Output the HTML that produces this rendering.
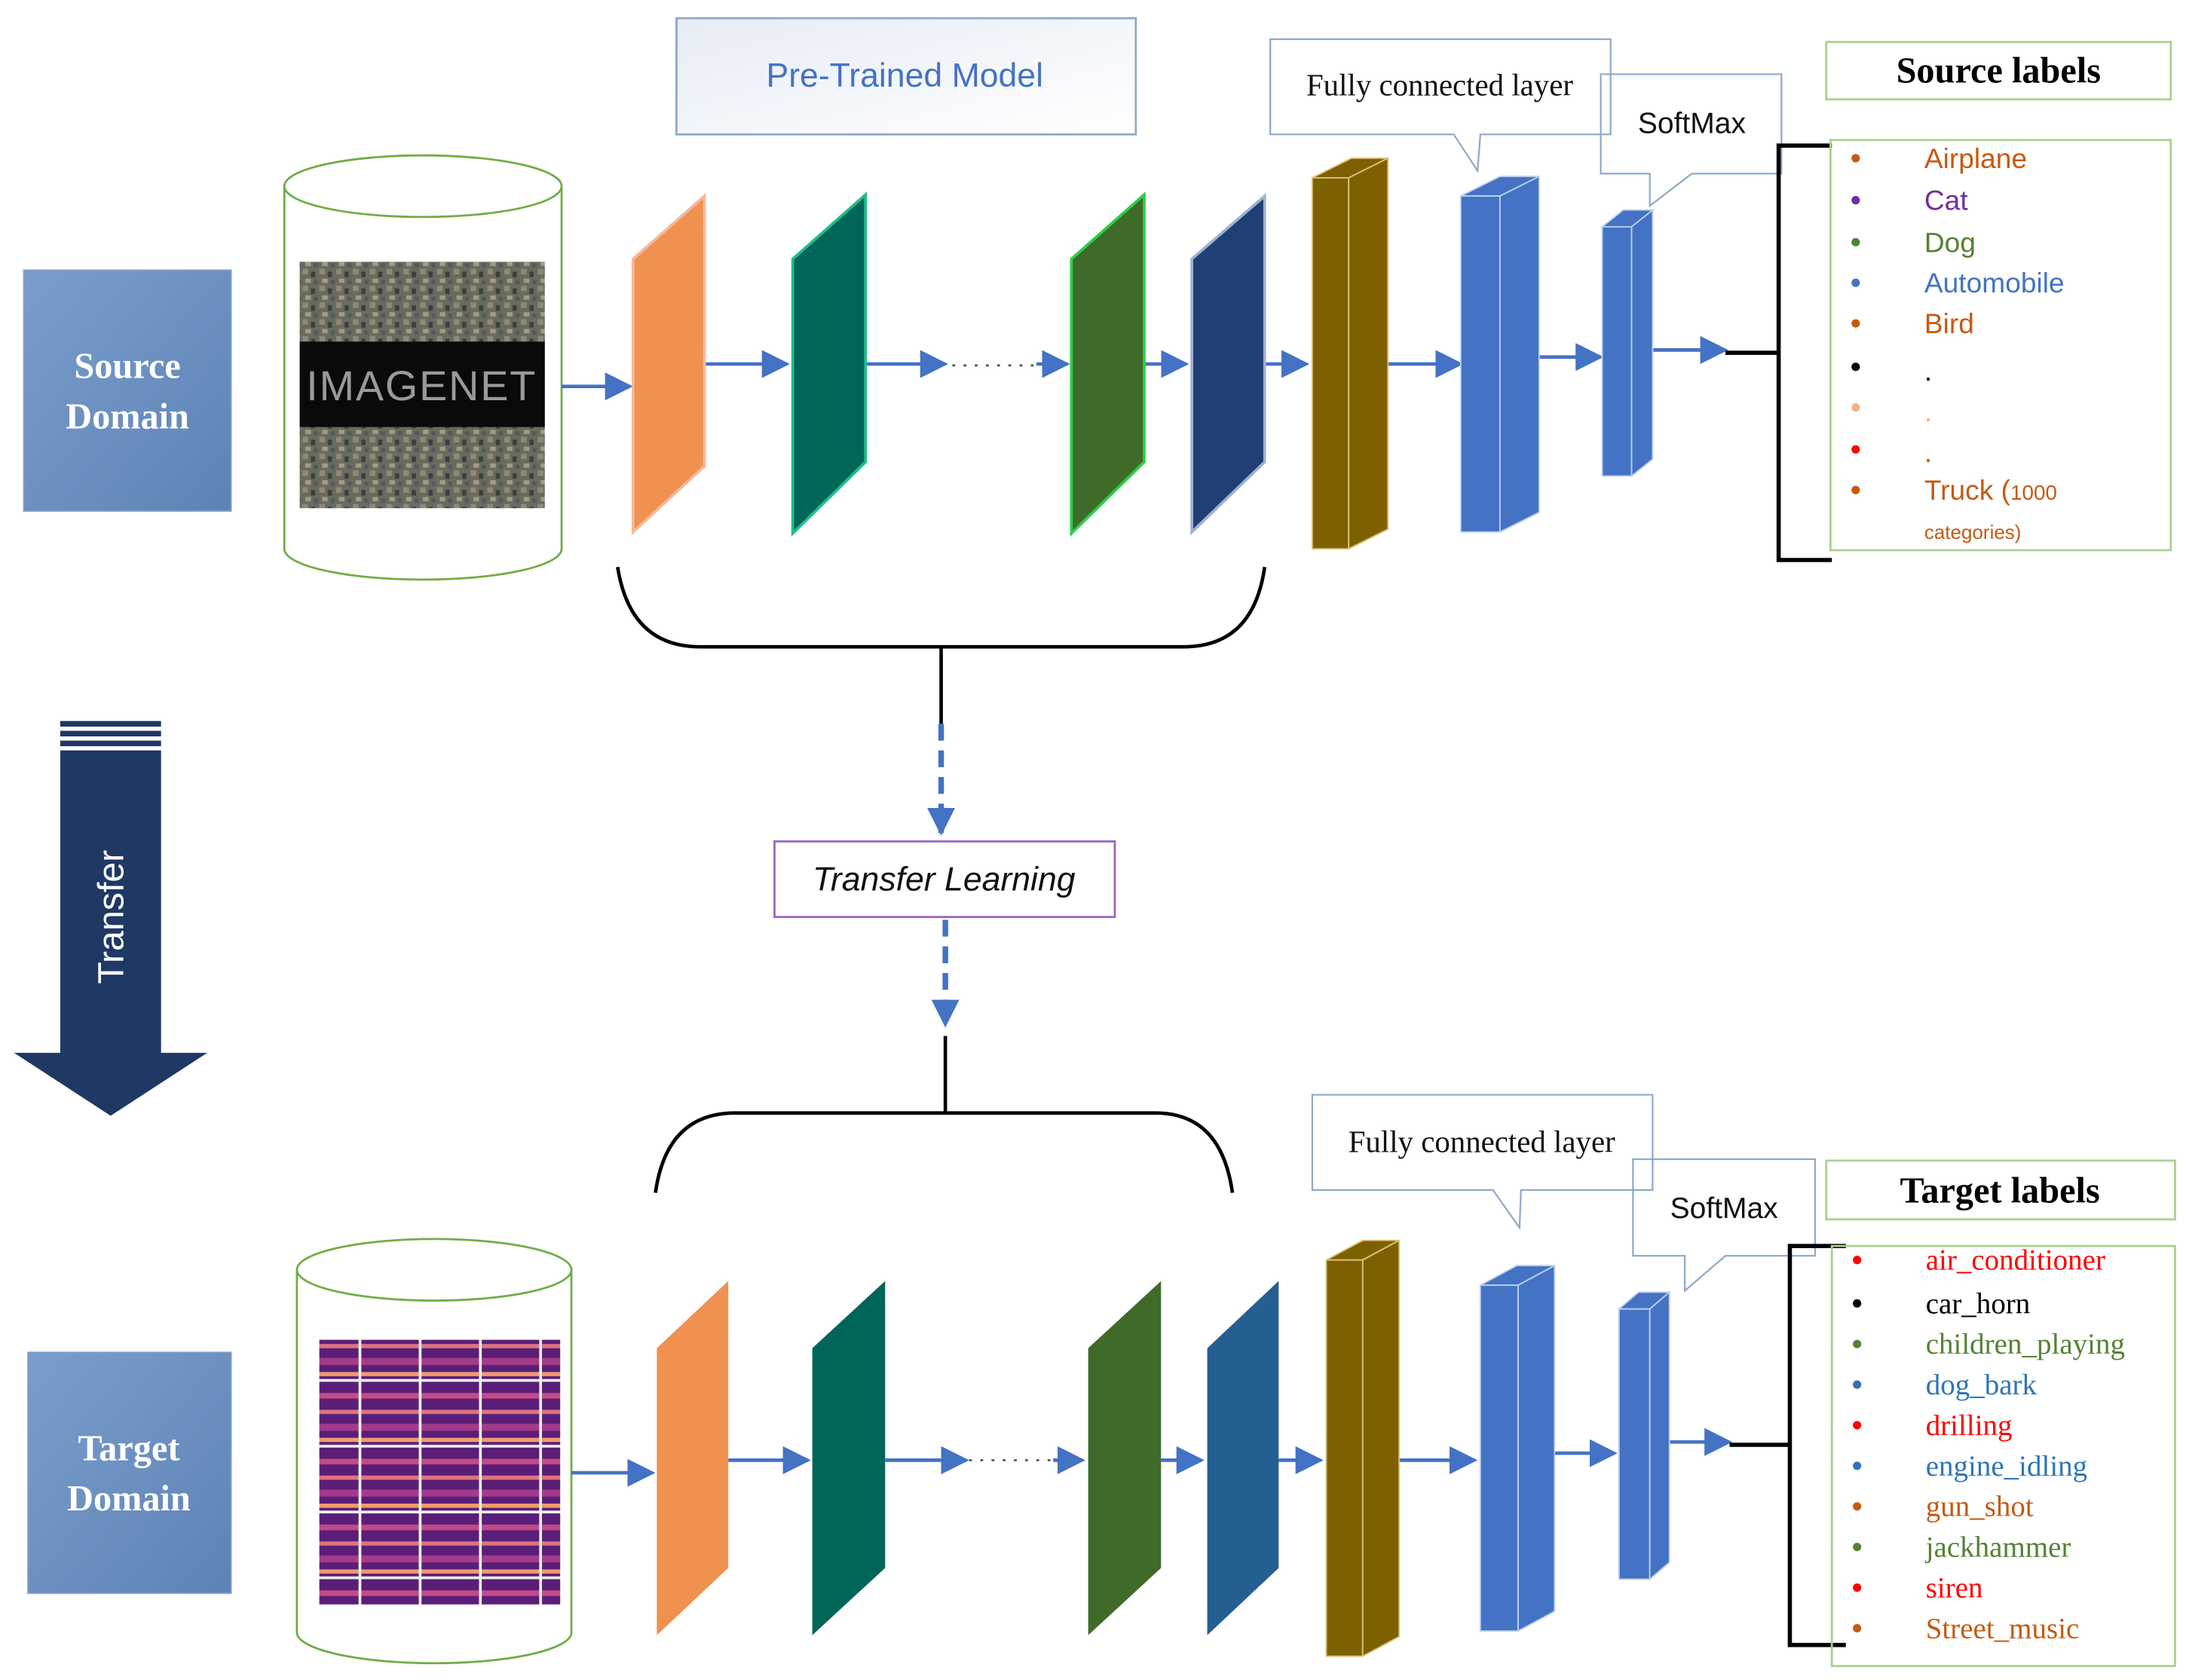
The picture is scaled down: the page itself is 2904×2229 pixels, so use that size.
<!DOCTYPE html>
<html><head><meta charset="utf-8"><style>
html,body{margin:0;padding:0;background:#fff;}
svg{display:block;}
.s{font-family:"Liberation Sans",sans-serif;}
.r{font-family:"Liberation Serif",serif;}
</style></head><body>
<svg width="2904" height="2229" viewBox="0 0 1563 1200" preserveAspectRatio="none" xmlns="http://www.w3.org/2000/svg">
<defs>
<linearGradient id="pt" x1="0" y1="0" x2="1" y2="1"><stop offset="0" stop-color="#e6ecf5"/><stop offset="1" stop-color="#ffffff"/></linearGradient>
<linearGradient id="dom" x1="0" y1="0" x2="1" y2="1"><stop offset="0" stop-color="#7a9dcb"/><stop offset="1" stop-color="#5d83b6"/></linearGradient>
<marker id="ah" markerWidth="8" markerHeight="8" refX="7" refY="4" orient="auto" markerUnits="userSpaceOnUse"><path d="M0,0 L0,0 L8,4 L0,8z" fill="#4472c4"/></marker>
<marker id="bh" viewBox="0 0 10 10" markerWidth="20" markerHeight="20" refX="9" refY="5" orient="auto" markerUnits="userSpaceOnUse"><path d="M0,0 L10,5 L0,10z" fill="#4472c4"/></marker>
<pattern id="noise" width="12" height="12" patternUnits="userSpaceOnUse"><rect width="12" height="12" fill="#6b6a5e"/><rect x="0" y="0" width="4" height="4" fill="#8d8a76"/><rect x="6" y="2" width="3" height="4" fill="#3d3f3a"/><rect x="2" y="7" width="4" height="3" fill="#a29c86"/><rect x="8" y="8" width="3" height="3" fill="#4f5b61"/></pattern>
<pattern id="spec" width="43" height="47" patternUnits="userSpaceOnUse"><rect width="43" height="47" fill="#5a1e78"/><rect x="0" y="8" width="43" height="4" fill="#c44a86"/><rect x="0" y="20" width="43" height="3" fill="#e0737c"/><rect x="0" y="30" width="43" height="5" fill="#a43a8a"/><rect x="0" y="40" width="43" height="3" fill="#f29a6c"/><rect x="41" y="0" width="2" height="47" fill="#eeeeee"/><rect x="0" y="45" width="43" height="2" fill="#eeeeee"/></pattern>
</defs>

<!-- Pre-trained model box -->
<rect x="483" y="13" width="328" height="83" fill="url(#pt)" stroke="#8ea9c8" stroke-width="1.5"/>
<text x="646" y="62" text-anchor="middle" class="s" font-size="24" fill="#4472c4">Pre-Trained Model</text>

<!-- Source domain -->
<rect x="17" y="193" width="148" height="172" fill="url(#dom)" stroke="#7f9cc4"/>
<text x="91" y="270" text-anchor="middle" class="r" font-size="26" font-weight="bold" fill="#fff">Source</text>
<text x="91" y="306" text-anchor="middle" class="r" font-size="26" font-weight="bold" fill="#fff">Domain</text>

<!-- Cylinder top -->
<path d="M203,133 A99,22 0 0 1 401,133 L401,392 A99,22 0 0 1 203,392 Z" fill="#fff" stroke="#70ad47" stroke-width="1.5"/>
<path d="M203,133 A99,22 0 0 0 401,133" fill="none" stroke="#70ad47" stroke-width="1.5"/>
<rect x="214" y="187" width="175" height="176" fill="url(#noise)"/>
<rect x="214" y="244" width="175" height="61" fill="#0a0a0a"/>
<text x="301" y="286" text-anchor="middle" class="s" font-size="30" fill="#9a9a9a" letter-spacing="1">IMAGENET</text>

<!-- top arrows -->
<g stroke="#4472c4" stroke-width="2.5" fill="none" marker-end="url(#bh)">
<line x1="401" y1="276" x2="450" y2="276"/>
<line x1="503" y1="260" x2="562" y2="260"/>
<line x1="618" y1="260" x2="675" y2="260"/>
<line x1="740" y1="260" x2="762" y2="260"/>
<line x1="817" y1="260" x2="847" y2="260"/>
<line x1="903" y1="260" x2="933" y2="260"/>
<line x1="991" y1="260" x2="1043" y2="260"/>
<line x1="1099" y1="255" x2="1143" y2="255"/>
<line x1="1180" y1="250" x2="1232" y2="250"/>
</g>
<line x1="680" y1="261" x2="738" y2="261" stroke="#555" stroke-width="1.5" stroke-dasharray="2,6"/>

<!-- top panels -->
<polygon points="452,185 503,140 503,333 452,380" fill="#f0914f" stroke="#f3b99b" stroke-width="2"/>
<polygon points="566,185 618,139 618,330 566,381" fill="#00665a" stroke="#1ec08a" stroke-width="2"/>
<polygon points="765,185 817,139 817,330 765,381" fill="#3f6a2a" stroke="#2ccf47" stroke-width="2"/>
<polygon points="851,185 903,140 903,330 851,380" fill="#203f74" stroke="#9fb0d0" stroke-width="2"/>

<!-- gold 3D -->
<polygon points="937,127 963,127 991,113 965,113" fill="#7f6000" stroke="#d9c27a" stroke-width="1"/>
<rect x="937" y="127" width="26" height="265" fill="#7f6000" stroke="#d9c27a" stroke-width="1"/>
<polygon points="963,127 991,113 991,378 963,392" fill="#7f6000" stroke="#d9c27a" stroke-width="1"/>
<!-- FC blue -->
<polygon points="1043,140 1071,140 1099,126 1071,126" fill="#4472c4" stroke="#bcd0ee" stroke-width="1"/>
<rect x="1043" y="140" width="28" height="240" fill="#4472c4" stroke="#bcd0ee" stroke-width="1"/>
<polygon points="1071,140 1099,126 1099,366 1071,380" fill="#4472c4" stroke="#bcd0ee" stroke-width="1"/>
<!-- softmax blue -->
<polygon points="1144,162 1165,162 1180,150 1159,150" fill="#4472c4" stroke="#bcd0ee" stroke-width="1"/>
<rect x="1144" y="162" width="21" height="178" fill="#4472c4" stroke="#bcd0ee" stroke-width="1"/>
<polygon points="1165,162 1180,150 1180,328 1165,340" fill="#4472c4" stroke="#bcd0ee" stroke-width="1"/>

<!-- callouts top -->
<path d="M907,28 L1150,28 L1150,96 L1057,96 L1055,122 L1038,96 L907,96 Z" fill="#fff" stroke="#8ea9c8" stroke-width="1.2"/>
<text x="1028" y="68" text-anchor="middle" class="r" font-size="22" fill="#111">Fully connected layer</text>
<path d="M1143,53 L1272,53 L1272,124 L1208,124 L1178,147 L1178,124 L1143,124 Z" fill="none" stroke="#8ea9c8" stroke-width="1.2"/>
<text x="1208" y="95" text-anchor="middle" class="s" font-size="21" fill="#111">SoftMax</text>

<!-- source labels -->
<line x1="1232" y1="252" x2="1270" y2="252" stroke="#000" stroke-width="3"/>
<path d="M1308,104 L1270,104 L1270,400 L1308,400" fill="none" stroke="#000" stroke-width="3"/>
<rect x="1304" y="30" width="246" height="41" fill="#fff" stroke="#a9d08e" stroke-width="1.5"/>
<text x="1427" y="59" text-anchor="middle" class="r" font-size="26" font-weight="bold">Source labels</text>
<rect x="1307" y="100" width="243" height="293" fill="none" stroke="#a9d08e" stroke-width="1.5"/>
<g class="s" font-size="20">
<circle cx="1325" cy="113" r="3" fill="#c55a11"/><text x="1374" y="120" fill="#c55a11">Airplane</text>
<circle cx="1325" cy="143" r="3" fill="#7030a0"/><text x="1374" y="150" fill="#7030a0">Cat</text>
<circle cx="1325" cy="173" r="3" fill="#548235"/><text x="1374" y="180" fill="#548235">Dog</text>
<circle cx="1325" cy="202" r="3" fill="#4472c4"/><text x="1374" y="209" fill="#4472c4">Automobile</text>
<circle cx="1325" cy="231" r="3" fill="#c55a11"/><text x="1374" y="238" fill="#c55a11">Bird</text>
<circle cx="1325" cy="262" r="3" fill="#000"/><text x="1374" y="272" fill="#000">.</text>
<circle cx="1325" cy="291" r="3" fill="#f4b183"/><text x="1374" y="301" fill="#f4b183">.</text>
<circle cx="1325" cy="321" r="3" fill="#ff0000"/><text x="1374" y="330" fill="#c55a11">.</text>
<circle cx="1325" cy="350" r="3" fill="#c55a11"/><text x="1374" y="357" fill="#c55a11">Truck (<tspan font-size="15">1000</tspan></text>
<text x="1374" y="385" fill="#c55a11" font-size="14">categories)</text>
</g>

<!-- top brace -->
<path d="M441,405 Q450,462 500,462 L845,462 Q895,462 903,405" fill="none" stroke="#000" stroke-width="2.5"/>
<line x1="672" y1="462" x2="672" y2="517" stroke="#000" stroke-width="2.5"/>
<line x1="672" y1="517" x2="672" y2="595" stroke="#4472c4" stroke-width="4" stroke-dasharray="12,7" marker-end="url(#bh)"/>
<rect x="553" y="601" width="243" height="54" fill="#fff" stroke="#9966c0" stroke-width="1.5"/>
<text x="674" y="636" text-anchor="middle" class="s" font-size="24" font-style="italic" fill="#111">Transfer Learning</text>
<line x1="675" y1="657" x2="675" y2="732" stroke="#4472c4" stroke-width="4" stroke-dasharray="12,7" marker-end="url(#bh)"/>
<line x1="675" y1="740" x2="675" y2="795" stroke="#000" stroke-width="2.5"/>
<path d="M468,852 Q476,795 525,795 L825,795 Q872,795 880,852" fill="none" stroke="#000" stroke-width="2.5"/>

<!-- transfer arrow -->
<g fill="#1f3864">
<rect x="43" y="515" width="72" height="4"/>
<rect x="43" y="522" width="72" height="4"/>
<rect x="43" y="529" width="72" height="4"/>
<rect x="43" y="536" width="72" height="217"/>
<polygon points="10,752 148,752 79,797"/>
</g>
<text x="0" y="0" transform="translate(88,655) rotate(-90)" text-anchor="middle" class="s" font-size="26" fill="#fff">Transfer</text>

<!-- target domain -->
<rect x="20" y="966" width="145" height="172" fill="url(#dom)" stroke="#7f9cc4"/>
<text x="92" y="1043" text-anchor="middle" class="r" font-size="26" font-weight="bold" fill="#fff">Target</text>
<text x="92" y="1079" text-anchor="middle" class="r" font-size="26" font-weight="bold" fill="#fff">Domain</text>

<path d="M212,907 A98,22 0 0 1 408,907 L408,1166 A98,22 0 0 1 212,1166 Z" fill="#fff" stroke="#70ad47" stroke-width="1.5"/>
<path d="M212,907 A98,22 0 0 0 408,907" fill="none" stroke="#70ad47" stroke-width="1.5"/>
<rect x="228" y="957" width="172" height="189" fill="url(#spec)"/>

<!-- bottom arrows -->
<g stroke="#4472c4" stroke-width="2.5" fill="none" marker-end="url(#bh)">
<line x1="408" y1="1052" x2="466" y2="1052"/>
<line x1="520" y1="1043" x2="577" y2="1043"/>
<line x1="632" y1="1043" x2="690" y2="1043"/>
<line x1="752" y1="1043" x2="773" y2="1043"/>
<line x1="829" y1="1043" x2="858" y2="1043"/>
<line x1="913" y1="1043" x2="943" y2="1043"/>
<line x1="999" y1="1043" x2="1053" y2="1043"/>
<line x1="1110" y1="1038" x2="1153" y2="1038"/>
<line x1="1192" y1="1030" x2="1235" y2="1030"/>
</g>
<line x1="692" y1="1043" x2="750" y2="1043" stroke="#555" stroke-width="1.5" stroke-dasharray="2,6"/>

<polygon points="469,963 520,915 520,1120 469,1168" fill="#f0914f"/>
<polygon points="580,963 632,915 632,1120 580,1168" fill="#00665a"/>
<polygon points="777,963 829,915 829,1120 777,1168" fill="#3f6a2a"/>
<polygon points="862,963 913,915 913,1120 862,1168" fill="#255e91"/>

<polygon points="947,900 973,900 999,886 973,886" fill="#7f6000" stroke="#d9c27a" stroke-width="1"/>
<rect x="947" y="900" width="26" height="283" fill="#7f6000" stroke="#d9c27a" stroke-width="1"/>
<polygon points="973,900 999,886 999,1169 973,1183" fill="#7f6000" stroke="#d9c27a" stroke-width="1"/>
<polygon points="1057,918 1084,918 1110,904 1083,904" fill="#4472c4" stroke="#bcd0ee" stroke-width="1"/>
<rect x="1057" y="918" width="27" height="247" fill="#4472c4" stroke="#bcd0ee" stroke-width="1"/>
<polygon points="1084,918 1110,904 1110,1151 1084,1165" fill="#4472c4" stroke="#bcd0ee" stroke-width="1"/>
<polygon points="1156,935 1178,935 1192,923 1170,923" fill="#4472c4" stroke="#bcd0ee" stroke-width="1"/>
<rect x="1156" y="935" width="22" height="193" fill="#4472c4" stroke="#bcd0ee" stroke-width="1"/>
<polygon points="1178,935 1192,923 1192,1116 1178,1128" fill="#4472c4" stroke="#bcd0ee" stroke-width="1"/>

<path d="M937,782 L1180,782 L1180,850 L1086,850 L1085,877 L1066,850 L937,850 Z" fill="#fff" stroke="#8ea9c8" stroke-width="1.2"/>
<text x="1058" y="823" text-anchor="middle" class="r" font-size="22" fill="#111">Fully connected layer</text>
<path d="M1166,828 L1296,828 L1296,897 L1232,897 L1203,922 L1203,897 L1166,897 Z" fill="none" stroke="#8ea9c8" stroke-width="1.2"/>
<text x="1231" y="870" text-anchor="middle" class="s" font-size="21" fill="#111">SoftMax</text>

<line x1="1235" y1="1032" x2="1278" y2="1032" stroke="#000" stroke-width="3"/>
<path d="M1318,890 L1278,890 L1278,1175 L1318,1175" fill="none" stroke="#000" stroke-width="3"/>
<rect x="1304" y="829" width="249" height="42" fill="#fff" stroke="#a9d08e" stroke-width="1.5"/>
<text x="1428" y="859" text-anchor="middle" class="r" font-size="26" font-weight="bold">Target labels</text>
<rect x="1308" y="890" width="245" height="300" fill="none" stroke="#a9d08e" stroke-width="1.5"/>
<g class="r" font-size="21">
<circle cx="1326" cy="900" r="3" fill="#ff0000"/><text x="1375" y="907" fill="#ff0000">air_conditioner</text>
<circle cx="1326" cy="931" r="3" fill="#000"/><text x="1375" y="938" fill="#000">car_horn</text>
<circle cx="1326" cy="960" r="3" fill="#548235"/><text x="1375" y="967" fill="#548235">children_playing</text>
<circle cx="1326" cy="989" r="3" fill="#2e75b6"/><text x="1375" y="996" fill="#2e75b6">dog_bark</text>
<circle cx="1326" cy="1018" r="3" fill="#ff0000"/><text x="1375" y="1025" fill="#ff0000">drilling</text>
<circle cx="1326" cy="1047" r="3" fill="#2e75b6"/><text x="1375" y="1054" fill="#2e75b6">engine_idling</text>
<circle cx="1326" cy="1076" r="3" fill="#c55a11"/><text x="1375" y="1083" fill="#c55a11">gun_shot</text>
<circle cx="1326" cy="1105" r="3" fill="#548235"/><text x="1375" y="1112" fill="#548235">jackhammer</text>
<circle cx="1326" cy="1134" r="3" fill="#ff0000"/><text x="1375" y="1141" fill="#ff0000">siren</text>
<circle cx="1326" cy="1163" r="3" fill="#c55a11"/><text x="1375" y="1170" fill="#c55a11">Street_music</text>
</g>
</svg>
</body></html>
